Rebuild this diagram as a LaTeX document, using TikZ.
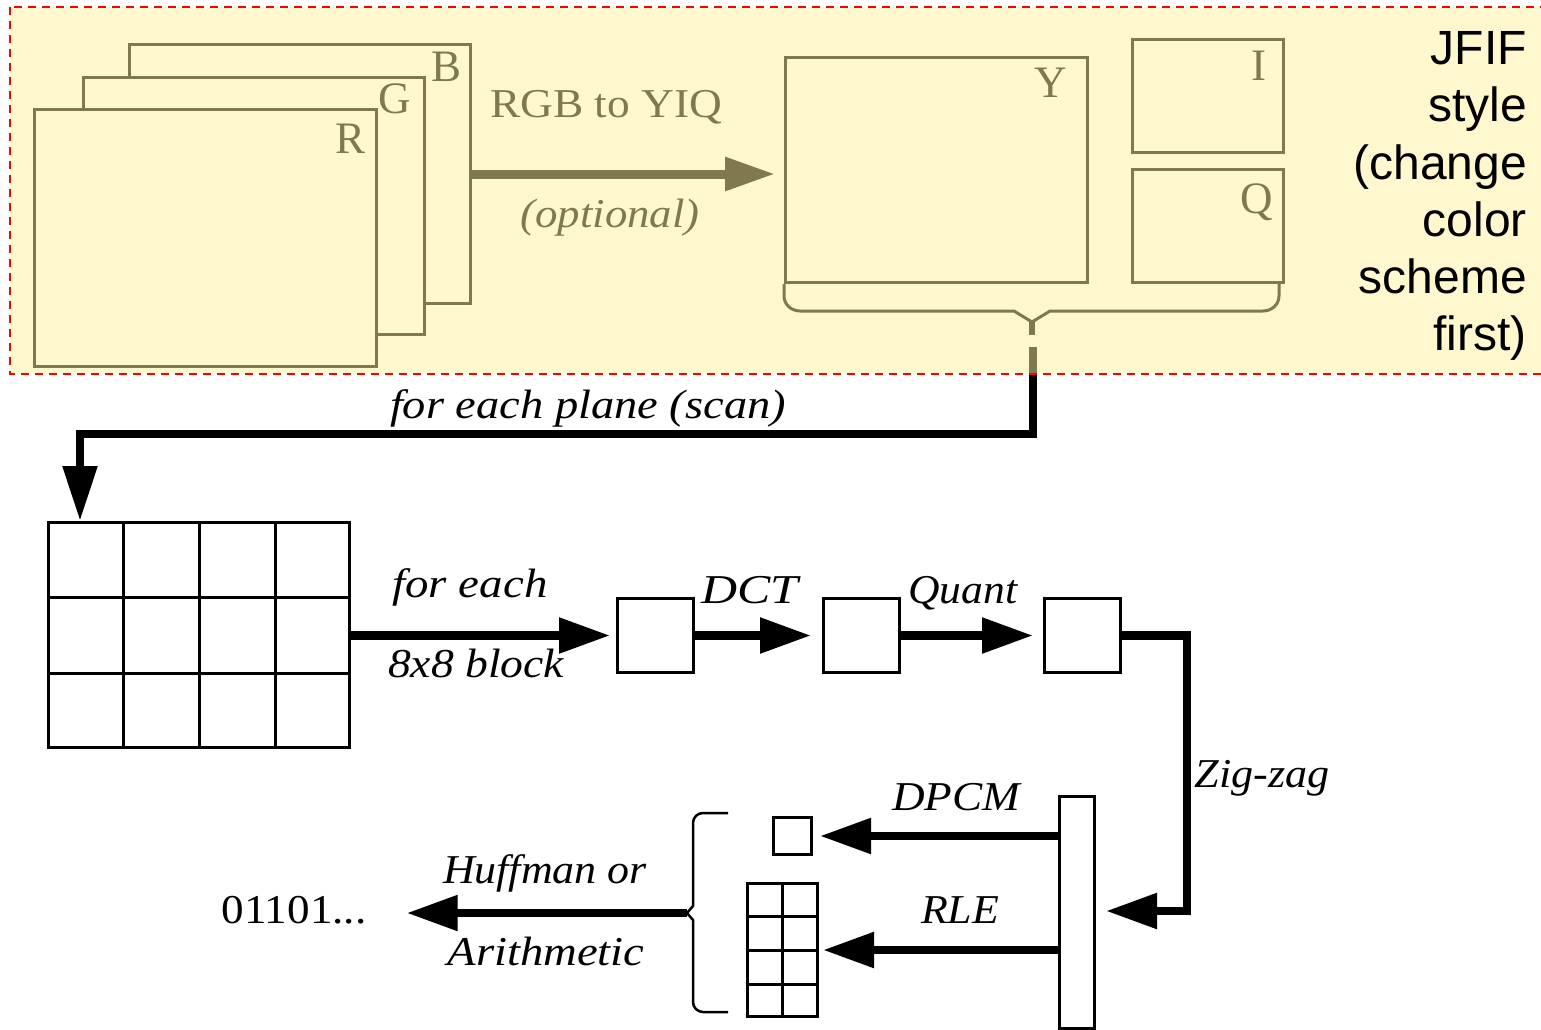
\documentclass[tikz,border=0pt]{standalone}
\usepackage{fontspec}
\usepackage{graphicx}
\setmainfont{Liberation Serif}
\newfontfamily\jfiffont{Liberation Sans}
\usetikzlibrary{arrows.meta,calc}
\definecolor{ovl}{RGB}{255,242,160}
\newcommand\fitw[2]{\resizebox{#1}{\height}{#2}}
\begin{document}
\begin{tikzpicture}[x=1pt,y=-1pt,
  box/.style={draw=black, line width=3pt, fill=white, inner sep=0pt, anchor=north west},
  conn/.style={draw=black, line width=8.5pt, -{Triangle[length=51pt,width=34pt]}},
  lbl/.style={inner sep=0pt, anchor=base},
  itl/.style={lbl, font=\fontsize{41}{41}\selectfont\itshape},
  upl/.style={lbl, font=\fontsize{45}{45}\selectfont},
  rml/.style={lbl, font=\fontsize{41}{41}\selectfont},
  thinline/.style={line width=3pt},
]
\useasboundingbox (0,0) rectangle (1541,1029);
\fill[white] (0,0) rectangle (1541,1029);

% ---- colour planes
\node[box, minimum width=341pt, minimum height=259pt] (planeB) at (128,43) {};
\node[upl] (labB) at (447,81) {B};
\node[box, minimum width=341pt, minimum height=257pt] (planeG) at (82,76) {};
\node[upl] (labG) at (395,113) {G};
\node[box, minimum width=342pt, minimum height=257pt] (planeR) at (33,108) {};
\node[upl] (labR) at (351,153) {R};

\node[box, minimum width=302pt, minimum height=225pt] (planeY) at (784,56) {};
\node[upl] (labY) at (1051,97) {Y};
\node[box, minimum width=151pt, minimum height=113pt] (planeI) at (1131,38) {};
\node[upl] (labI) at (1259,80) {I};
\node[box, minimum width=151pt, minimum height=113pt] (planeQ) at (1131,168) {};
\node[upl] (labQ) at (1257,213) {Q};

\draw[line width=9pt, -{Triangle[length=50pt,width=32pt]}, shorten >=9pt]
  (planeB.east) -- (planeB.east -| planeY.west);
\node[rml] (trgb) at (606,117) {\fitw{232pt}{RGB to YIQ}};
\node[itl] (topt) at (610,227) {\fitw{179pt}{(optional)}};

% ---- brace under Y I Q
\coordinate (bracetip) at (1032,322);
\draw[line width=3pt]
  (planeY.south west) -- (784,296) to[out=-90,in=180] (800,311) -- (1014,311)
  -- (bracetip) -- (1050,311) -- (1263,311) to[out=0,in=-90] (1279,296) -- (1279,281);
\draw[line width=6pt] (bracetip) -- ++(0,13);

% ---- scan connector
\coordinate (scanstart) at (1033,347);
\node[box, minimum width=301pt, minimum height=225pt] (grid) at (47,521) {};
\foreach \f in {0.25,0.5,0.75}
  \draw[thinline] ($(grid.north west)!\f!(grid.north east)$) -- ($(grid.south west)!\f!(grid.south east)$);
\foreach \f in {0.3333,0.6667}
  \draw[thinline] ($(grid.north west)!\f!(grid.south west)$) -- ($(grid.north east)!\f!(grid.south east)$);
\draw[conn, -{Triangle[length=55pt,width=33pt]}]
  (scanstart) -- ++(0,87) -| ([xshift=33pt]grid.north west);
\node[itl] (tscan) at (588,418) {\fitw{396pt}{for each plane (scan)}};

% ---- block pipeline
\node[box, minimum width=76pt, minimum height=74pt] (blk1) at (616,597) {};
\node[box, minimum width=76pt, minimum height=74pt] (blk2) at (822,597) {};
\node[box, minimum width=76pt, minimum height=74pt] (blk3) at (1043,597) {};
\draw[conn, shorten >=6pt] (grid.east |- blk1.west) -- (blk1.west);
\node[itl] (tfe) at (470,597) {\fitw{155pt}{for each}};
\node[itl] (t8x8) at (476,677) {\fitw{176pt}{8x8 block}};
\draw[conn, shorten >=11pt] (blk1.east) -- (blk2.west);
\node[itl] (tdct) at (750,603) {\fitw{97pt}{DCT}};
\draw[conn, shorten >=10pt] (blk2.east) -- (blk3.west);
\node[itl] (tq) at (963,603) {\fitw{109pt}{Quant}};

\node[box, minimum width=35pt, minimum height=232pt] (tall) at (1058,795) {};
\coordinate (zz) at (1187,911);
\draw[conn, shorten >=10pt] (blk3.east) -| (zz) -- (zz -| tall.east);
\node[itl] (tzz) at (1262,787) {\fitw{135pt}{Zig-zag}};

\node[box, minimum width=38pt, minimum height=37pt] (dc) at (772,816) {};
\node[box, minimum width=70pt, minimum height=133pt] (sg) at (746,882) {};
\draw[thinline] (sg.north) -- (sg.south);
\foreach \f in {0.25,0.5,0.75}
  \draw[thinline] ($(sg.north west)!\f!(sg.south west)$) -- ($(sg.north east)!\f!(sg.south east)$);
\draw[conn, shorten >=7pt] (tall.west |- dc.east) -- (dc.east);
\node[itl] (tdpcm) at (956,810) {\fitw{128pt}{DPCM}};
\draw[conn, shorten >=4pt] (tall.west |- sg.east) -- (sg.east);
\node[itl] (trle) at (960,923) {\fitw{78pt}{RLE}};

% ---- left brace and output
\coordinate (lbtip) at (687,913);
\draw[line width=2.5pt]
  (728,813) -- (703,813) to[out=180,in=90] (693,823) -- (693,906) -- (lbtip)
  -- (693,920) -- (693,1002) to[out=-90,in=180] (703,1012) -- (728,1012);
\node[rml] (bits) at (294,923) {\fitw{145pt}{01101...}};
\draw[conn, shorten >=40pt] (lbtip) -- (lbtip -| bits.east);
\node[itl] (thuf) at (545,883) {\fitw{204pt}{Huffman or}};
\node[itl] (tari) at (546,965) {\fitw{197pt}{Arithmetic}};

% ---- JFIF overlay
\fill[ovl, fill opacity=0.5] (10,7) rectangle (1560,374);
\draw[red, line width=2.2pt, dash pattern=on 8pt off 6pt] (10,7) rectangle (1560,374);
\node[font=\jfiffont\fontsize{48}{57.2}\selectfont, align=right, anchor=north east, inner sep=0pt]
  (jfif) at (1527,31.5) {JFIF\\style\\(change\\color\\scheme\\first)};
\end{tikzpicture}
\end{document}
